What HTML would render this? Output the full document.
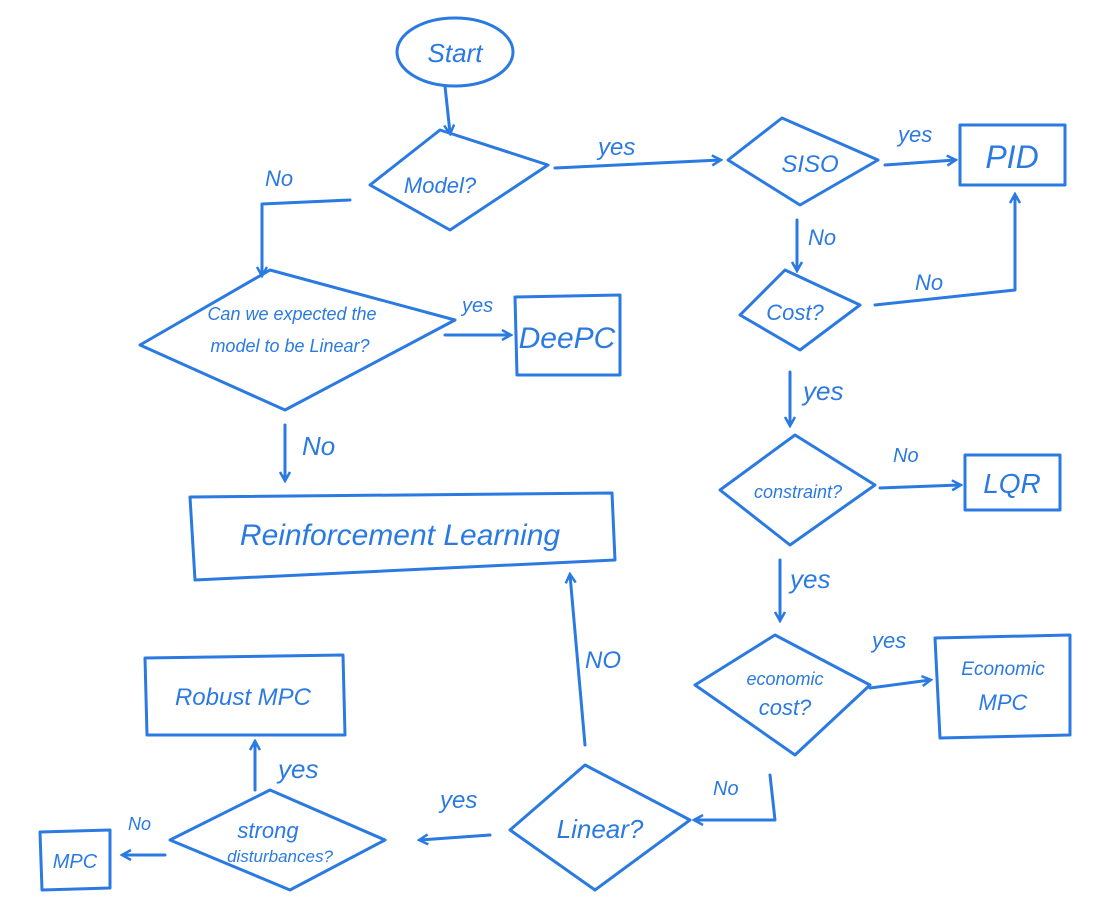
<!DOCTYPE html>
<html><head><meta charset="utf-8"><style>
html,body{margin:0;padding:0;background:#fff;}
svg{display:block;}
text{font-family:"Liberation Sans",sans-serif;fill:#2a7ae2;font-style:italic;}
</style></head><body>
<svg width="1093" height="918" viewBox="0 0 1093 918" xmlns="http://www.w3.org/2000/svg">
<defs><marker id="a" markerWidth="12" markerHeight="12" refX="9" refY="6" orient="auto" markerUnits="userSpaceOnUse"><path d="M1,1 L10,6 L1,11" fill="none" stroke="#2a7ae2" stroke-width="2.5"/></marker></defs>
<g fill="none" stroke="#2a7ae2" stroke-width="3" stroke-linecap="round" stroke-linejoin="round">
<!-- Start -->
<ellipse cx="455" cy="52" rx="58" ry="34"/>
<path d="M445 86 L450 133" marker-end="url(#a)"/>
<!-- Model -->
<path d="M370 185 L440 130 L548 165 L450 230 Z"/>
<path d="M350 200 L262 204 L262 275" marker-end="url(#a)"/>
<path d="M555 168 L720 160" marker-end="url(#a)"/>
<!-- SISO -->
<path d="M728 160 L782 118 L878 160 L800 205 Z"/>
<path d="M885 165 L955 160" marker-end="url(#a)"/>
<path d="M960 125 L1065 125 L1065 185 L960 185 Z"/>
<path d="M797 220 L797 270" marker-end="url(#a)"/>
<!-- Cost -->
<path d="M740 315 L785 270 L860 305 L800 350 Z"/>
<path d="M875 305 L1015 290 L1015 195" marker-end="url(#a)"/>
<path d="M790 372 L790 425" marker-end="url(#a)"/>
<!-- constraint -->
<path d="M720 490 L795 435 L875 485 L790 545 Z"/>
<path d="M880 488 L960 485" marker-end="url(#a)"/>
<path d="M965 455 L1060 455 L1060 510 L965 510 Z"/>
<path d="M780 560 L780 620" marker-end="url(#a)"/>
<!-- economic -->
<path d="M695 685 L775 635 L870 685 L795 755 Z"/>
<path d="M870 688 L930 680" marker-end="url(#a)"/>
<path d="M935 638 L1070 635 L1070 735 L940 738 Z"/>
<path d="M770 775 L775 820 L695 820" marker-end="url(#a)"/>
<!-- Linear -->
<path d="M510 830 L585 765 L690 820 L595 890 Z"/>
<path d="M490 835 L420 840" marker-end="url(#a)"/>
<path d="M585 745 L570 575" marker-end="url(#a)"/>
<!-- strong -->
<path d="M170 840 L270 790 L385 840 L290 890 Z"/>
<path d="M255 790 L255 742" marker-end="url(#a)"/>
<path d="M145 658 L343 655 L345 735 L147 735 Z"/>
<path d="M165 855 L123 855" marker-end="url(#a)"/>
<path d="M40 832 L110 830 L110 888 L42 890 Z"/>
<!-- linear expected -->
<path d="M140 345 L270 270 L455 320 L285 410 Z"/>
<path d="M445 335 L510 335" marker-end="url(#a)"/>
<path d="M515 297 L620 295 L620 375 L517 375 Z"/>
<path d="M285 425 L285 480" marker-end="url(#a)"/>
<path d="M190 497 L612 493 L615 560 L195 580 Z"/>
</g>
<text x="455" y="62" font-size="26" text-anchor="middle">Start</text>
<text x="440" y="193" font-size="22" text-anchor="middle">Model?</text>
<text x="265" y="186" font-size="22">No</text>
<text x="598" y="155" font-size="24">yes</text>
<text x="810" y="172" font-size="24" text-anchor="middle">SISO</text>
<text x="898" y="142" font-size="22">yes</text>
<text x="1012" y="168" font-size="32" text-anchor="middle">PID</text>
<text x="808" y="245" font-size="22">No</text>
<text x="795" y="320" font-size="22" text-anchor="middle">Cost?</text>
<text x="915" y="290" font-size="22">No</text>
<text x="803" y="400" font-size="26">yes</text>
<text x="798" y="498" font-size="18" text-anchor="middle">constraint?</text>
<text x="893" y="462" font-size="20">No</text>
<text x="1012" y="493" font-size="28" text-anchor="middle">LQR</text>
<text x="790" y="588" font-size="26">yes</text>
<text x="872" y="648" font-size="22">yes</text>
<text x="785" y="685" font-size="18" text-anchor="middle">economic</text>
<text x="785" y="715" font-size="22" text-anchor="middle">cost?</text>
<text x="1003" y="675" font-size="19" text-anchor="middle">Economic</text>
<text x="1003" y="710" font-size="22" text-anchor="middle">MPC</text>
<text x="713" y="795" font-size="20">No</text>
<text x="600" y="838" font-size="26" text-anchor="middle">Linear?</text>
<text x="440" y="808" font-size="24">yes</text>
<text x="585" y="668" font-size="24">NO</text>
<text x="268" y="838" font-size="22" text-anchor="middle">strong</text>
<text x="280" y="862" font-size="17" text-anchor="middle">disturbances?</text>
<text x="278" y="778" font-size="26">yes</text>
<text x="243" y="705" font-size="24" text-anchor="middle">Robust MPC</text>
<text x="128" y="830" font-size="18">No</text>
<text x="75" y="868" font-size="20" text-anchor="middle">MPC</text>
<text x="292" y="320" font-size="18" text-anchor="middle">Can we expected the</text>
<text x="290" y="352" font-size="18" text-anchor="middle">model to be Linear?</text>
<text x="462" y="312" font-size="20">yes</text>
<text x="567" y="348" font-size="30" text-anchor="middle">DeePC</text>
<text x="302" y="455" font-size="26">No</text>
<text x="400" y="545" font-size="30" text-anchor="middle">Reinforcement Learning</text>
</svg>
</body></html>
